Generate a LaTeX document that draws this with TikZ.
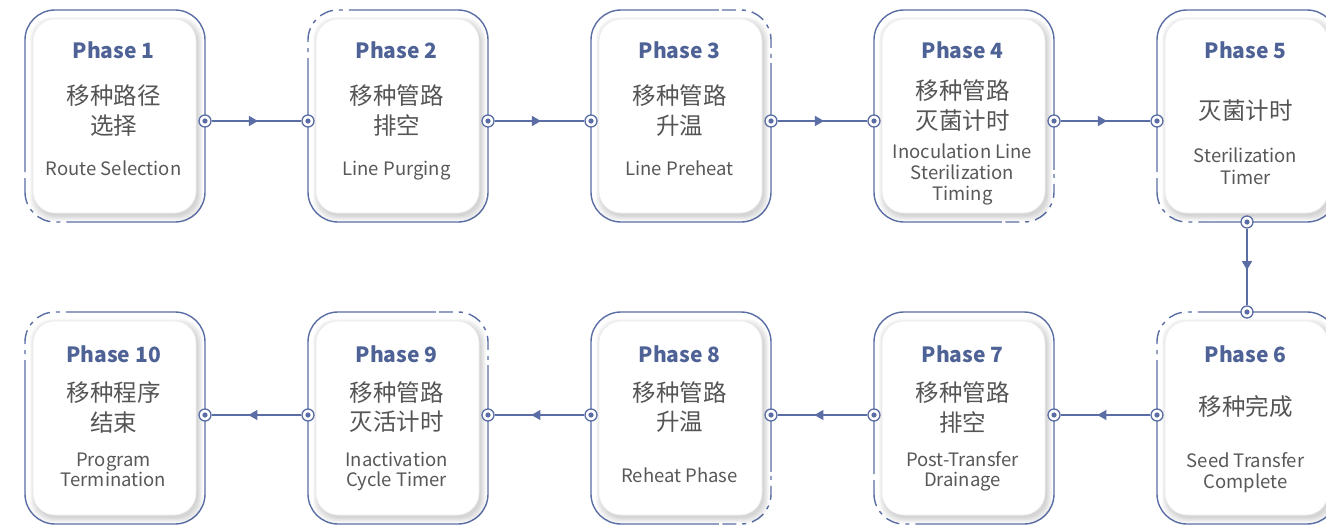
\documentclass[tikz,border=0pt]{standalone}
\usepackage{fontspec}
\setmainfont{Noto Sans CJK SC}
\usetikzlibrary{arrows.meta,decorations.markings,calc}
\definecolor{lineblue}{RGB}{90,110,165}
\definecolor{titleblue}{RGB}{78,98,150}
\definecolor{cngray}{RGB}{85,85,85}
\definecolor{engray}{RGB}{88,88,88}
\tikzset{
  frame/.style={draw=lineblue, line width=1.4pt, rounded corners=30pt, minimum width=180pt, minimum height=212pt, inner sep=0pt, outer sep=0pt},
  card/.style={fill=white, draw=black!7, line width=0.6pt, rounded corners=22pt, minimum width=163pt, minimum height=194pt, inner sep=0pt},
  port/.style={circle, draw=lineblue, fill=white, line width=1.3pt, minimum size=12pt, inner sep=0pt,
    path picture={\fill[lineblue] (path picture bounding box.center) circle[radius=2.6pt];}},
  linkat/.style={draw=lineblue, line width=1.3pt, postaction={decorate},
    decoration={markings, mark=at position #1 with {\arrow[lineblue]{Triangle[length=9pt,width=10pt]}}}},
  ptitle/.style={font=\fontsize{21}{25}\selectfont\bfseries, text=titleblue, anchor=base, inner sep=0pt},
  pcn/.style={font=\fontsize{23.5}{28}\selectfont, text=cngray, anchor=center, inner sep=0pt},
  pen/.style={font=\fontsize{18.5}{22}\selectfont, text=engray, anchor=base, inner sep=0pt},
}
\newcommand\phdashcorner[4]{%
  \begin{scope}
    \clip ($(#1.#2)+#3$) rectangle ++#4;
    \draw[white, line width=3.5pt, rounded corners=30pt] (#1.south west) rectangle (#1.north east);
    \draw[lineblue, line width=1.4pt, rounded corners=30pt, dash pattern=on 14pt off 6pt on 4pt off 6pt] (#1.south west) rectangle (#1.north east);
  \end{scope}}
\newcommand\phshadow[2]{%
  \foreach \s in {0,...,5}{%
    \fill[black, opacity=0.028, rounded corners=22pt] (#1-81.5-\s+2, #2-97-\s+3) rectangle (#1+81.5+\s+2, #2+97+\s+3);}}
\begin{document}
\begin{tikzpicture}[x=1pt,y=-1pt]
\clip (0,0) rectangle (1326,525);
\fill[white] (0,0) rectangle (1326,525);
% outer frames
\node[frame] (b1) at (115,116) {};
\node[frame] (b2) at (398,116) {};
\node[frame] (b3) at (681,116) {};
\node[frame] (b4) at (964,116) {};
\node[frame] (b5) at (1247,116) {};
\node[frame] (b6) at (1247,418) {};
\node[frame] (b7) at (964,418) {};
\node[frame] (b8) at (681,418) {};
\node[frame] (b9) at (398,418) {};
\node[frame] (b10) at (115,418) {};
% dashed corners
\phdashcorner{b1}{south west}{(-5,5)}{(57,-57)}
\phdashcorner{b2}{north west}{(-5,-5)}{(57,57)}
\phdashcorner{b3}{north east}{(5,-5)}{(-57,57)}
\phdashcorner{b4}{south east}{(5,5)}{(-57,-57)}
\phdashcorner{b5}{south west}{(-5,5)}{(57,-57)}
\phdashcorner{b6}{north west}{(-5,-5)}{(57,57)}
\phdashcorner{b7}{south west}{(-5,5)}{(57,-57)}
\phdashcorner{b8}{south east}{(5,5)}{(-57,-57)}
\phdashcorner{b9}{north east}{(5,-5)}{(-57,57)}
\phdashcorner{b10}{north west}{(-5,-5)}{(57,57)}
% cards
\phshadow{114.5}{116}\node[card] (k1) at (114.5,116) {};
\phshadow{397.5}{116}\node[card] (k2) at (397.5,116) {};
\phshadow{680.5}{116}\node[card] (k3) at (680.5,116) {};
\phshadow{963.5}{116}\node[card] (k4) at (963.5,116) {};
\phshadow{1246.5}{116}\node[card] (k5) at (1246.5,116) {};
\phshadow{1246.5}{418}\node[card] (k6) at (1246.5,418) {};
\phshadow{963.5}{418}\node[card] (k7) at (963.5,418) {};
\phshadow{680.5}{418}\node[card] (k8) at (680.5,418) {};
\phshadow{397.5}{418}\node[card] (k9) at (397.5,418) {};
\phshadow{114.5}{418}\node[card] (k10) at (114.5,418) {};
% texts, top row
\node[ptitle] (t1) at (113.5,58) {Phase 1};
\node[pcn] (c1a) at (113.5,95.5) {移种路径};
\node[pcn] (c1b) at (113.5,125.5) {选择};
\node[pen] (e1a) at (113.5,175) {Route Selection};
\node[ptitle] (t2) at (396.5,58) {Phase 2};
\node[pcn] (c2a) at (396.5,95.5) {移种管路};
\node[pcn] (c2b) at (396.5,125.5) {排空};
\node[pen] (e2a) at (396.5,175) {Line Purging};
\node[ptitle] (t3) at (679.5,58) {Phase 3};
\node[pcn] (c3a) at (679.5,95.5) {移种管路};
\node[pcn] (c3b) at (679.5,125.5) {升温};
\node[pen] (e3a) at (679.5,175.5) {Line Preheat};
\node[ptitle] (t4) at (962.5,58) {Phase 4};
\node[pcn] (c4a) at (962.5,91) {移种管路};
\node[pcn] (c4b) at (962.5,121) {灭菌计时};
\node[pen] (e4a) at (962.5,158) {Inoculation Line};
\node[pen] (e4b) at (962.5,179) {Sterilization};
\node[pen] (e4c) at (962.5,200) {Timing};
\node[ptitle] (t5) at (1245.5,58) {Phase 5};
\node[pcn] (c5a) at (1245.5,110.5) {灭菌计时};
\node[pen] (e5a) at (1245.5,162.7) {Sterilization};
\node[pen] (e5b) at (1245.5,184.3) {Timer};
% texts, bottom row
\node[ptitle] (t6) at (1245.5,362) {Phase 6};
\node[pcn] (c6a) at (1245.5,406.5) {移种完成};
\node[pen] (e6a) at (1245.5,467.7) {Seed Transfer};
\node[pen] (e6b) at (1245.5,488.3) {Complete};
\node[ptitle] (t7) at (962.5,362) {Phase 7};
\node[pcn] (c7a) at (962.5,392.5) {移种管路};
\node[pcn] (c7b) at (962.5,422) {排空};
\node[pen] (e7a) at (962.5,466.7) {Post-Transfer};
\node[pen] (e7b) at (962.5,486.7) {Drainage};
\node[ptitle] (t8) at (679.5,362) {Phase 8};
\node[pcn] (c8a) at (679.5,392.5) {移种管路};
\node[pcn] (c8b) at (679.5,422) {升温};
\node[pen] (e8a) at (679.5,482.7) {Reheat Phase};
\node[ptitle] (t9) at (396.5,362) {Phase 9};
\node[pcn] (c9a) at (396.5,392.5) {移种管路};
\node[pcn] (c9b) at (396.5,422) {灭活计时};
\node[pen] (e9a) at (396.5,466.5) {Inactivation};
\node[pen] (e9b) at (396.5,486.7) {Cycle Timer};
\node[ptitle] (t10) at (113.5,362) {Phase 10};
\node[pcn] (c10a) at (113.5,393) {移种程序};
\node[pcn] (c10b) at (113.5,422.5) {结束};
\node[pen] (e10a) at (113.5,466.7) {Program};
\node[pen] (e10b) at (113.5,486.7) {Termination};
% ports
\node[port] (p1r) at (205,121) {};
\node[port] (p2l) at (308,121) {};
\node[port] (p2r) at (488,121) {};
\node[port] (p3l) at (591,121) {};
\node[port] (p3r) at (771,121) {};
\node[port] (p4l) at (874,121) {};
\node[port] (p4r) at (1054,121) {};
\node[port] (p5l) at (1157,121) {};
\node[port] (p5b) at (1247,222) {};
\node[port] (p6t) at (1247,312) {};
\node[port] (p6l) at (1157,415) {};
\node[port] (p7r) at (1054,415) {};
\node[port] (p7l) at (874,415) {};
\node[port] (p8r) at (771,415) {};
\node[port] (p8l) at (591,415) {};
\node[port] (p9r) at (488,415) {};
\node[port] (p9l) at (308,415) {};
\node[port] (p10r) at (205,415) {};
% links
\draw[linkat=0.516] (p1r) -- (p2l);
\draw[linkat=0.516] (p2r) -- (p3l);
\draw[linkat=0.516] (p3r) -- (p4l);
\draw[linkat=0.516] (p4r) -- (p5l);
\draw[linkat=0.54] (p5b) -- (p6t);
\draw[linkat=0.59] (p6l) -- (p7r);
\draw[linkat=0.59] (p7l) -- (p8r);
\draw[linkat=0.59] (p8l) -- (p9r);
\draw[linkat=0.59] (p9l) -- (p10r);
\end{tikzpicture}
\end{document}
